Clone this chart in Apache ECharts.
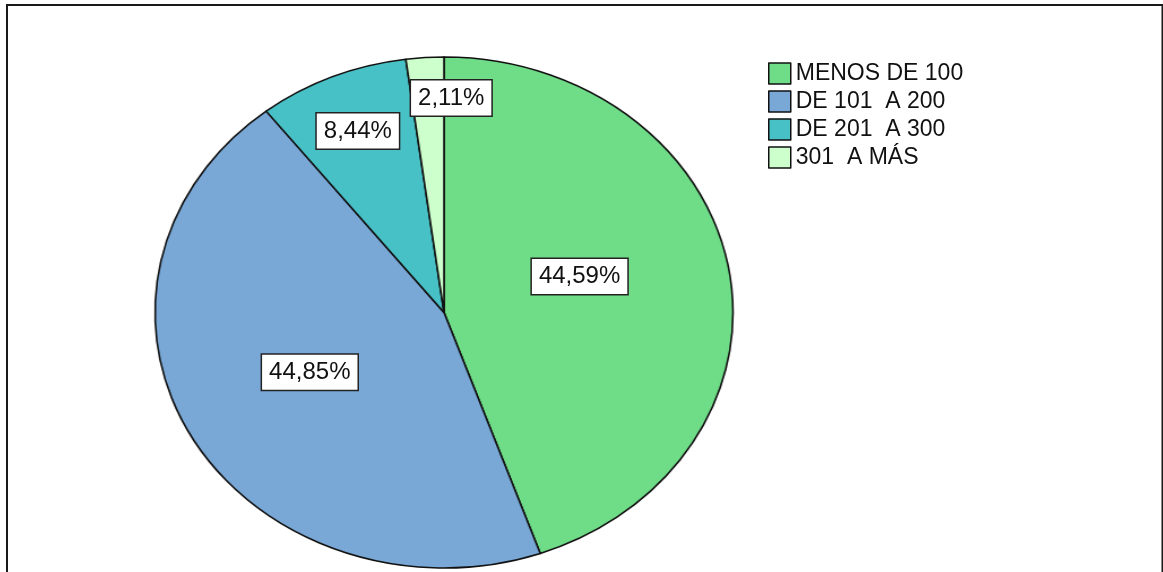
<!DOCTYPE html>
<html>
<head>
<meta charset="utf-8">
<script src="https://cdn.jsdelivr.net/npm/echarts@6/dist/echarts.min.js"></script>
<style>
  html, body { margin: 0; padding: 0; background: #ffffff; }
  .layer { position: absolute; left: 0; top: 0; width: 1163px; height: 572px; }
  #slices { transform-origin: 444px 312.5px; transform: scaleX(1.131); }
</style>
</head>
<body>
<div id="slices" class="layer"></div>
<div id="labels" class="layer"></div>
<script>
// Income ranges and their share of respondents (%)
const categories = ['MENOS DE 100', 'DE 101  A 200', 'DE 201  A 300', '301  A MÁS'];
const percentages = [44.59, 44.85, 8.44, 2.11];
const colors = ['#6FDC87', '#79A8D7', '#48C1C6', '#CCFFCC'];

// Pie geometry: drawn as a circle, then stretched horizontally into an ellipse
const CX = 444, CY = 312.5, R = 255.5, STRETCH = 1.131;
// Label placement along each slice: radius as a fraction of R, and angle nudge in degrees
const labelRadius = [0.49, 0.52, 0.77, 0.84];
const labelTurn = [-7, 2, 0, 5.5];

const seriesData = categories.map((name, i) => ({ name, value: percentages[i] }));
const fmt = v => v.toFixed(2).replace('.', ',') + '%';

// Layer 1: the slices (stretched)
const slices = echarts.init(document.getElementById('slices'), null, { renderer: 'canvas' });
slices.setOption({
  animation: false,
  backgroundColor: 'transparent',
  color: colors,
  series: [{
    type: 'pie',
    center: [CX, CY],
    radius: [0, R],
    startAngle: 90,
    clockwise: true,
    silent: true,
    data: seriesData,
    itemStyle: { borderColor: '#111', borderWidth: 1.6 },
    label: { show: false },
    labelLine: { show: false }
  }]
});

// Layer 2: frame, legend and value labels (unstretched text)
const labels = echarts.init(document.getElementById('labels'), null, { renderer: 'canvas' });
labels.setOption({
  animation: false,
  backgroundColor: 'transparent',
  graphic: [{
    type: 'rect',
    shape: { x: 7, y: 5, width: 1155.5, height: 620 },
    style: { fill: 'none', stroke: '#1a1a1a', lineWidth: 2 },
    silent: true
  }],
  legend: {
    orient: 'vertical',
    left: 768,
    top: 62,
    padding: 0,
    itemWidth: 22,
    itemHeight: 21,
    itemGap: 5,
    icon: 'rect',
    selectedMode: false,
    data: categories.map((name, i) => ({
      name,
      itemStyle: { color: colors[i], opacity: 1, borderColor: '#111', borderWidth: 1.5 }
    })),
    textStyle: { fontFamily: 'Liberation Sans', fontSize: 23, color: '#111' }
  },
  series: [{
    type: 'pie',
    center: [CX, CY],
    radius: [0, R],
    startAngle: 90,
    clockwise: true,
    silent: true,
    data: seriesData,
    itemStyle: { color: 'transparent', borderWidth: 0 },
    label: {
      show: true,
      position: 'inside',
      formatter: p => fmt(p.value),
      fontFamily: 'Liberation Sans',
      fontSize: 24,
      lineHeight: 26,
      color: '#111',
      backgroundColor: '#ffffff',
      borderColor: '#222',
      borderWidth: 1.5,
      padding: [5, 7, 4, 7]
    },
    labelLine: { show: false },
    labelLayout: function (p) {
      const r = p.labelRect;
      const ox = r.x + r.width / 2, oy = r.y + r.height / 2;
      const phi = Math.atan2(oy - CY, ox - CX) + labelTurn[p.dataIndex] * Math.PI / 180;
      const d = R * labelRadius[p.dataIndex];
      const nx = CX + STRETCH * d * Math.cos(phi);
      const ny = CY + d * Math.sin(phi);
      return { dx: nx - ox, dy: ny - oy };
    }
  }]
});
</script>
</body>
</html>
